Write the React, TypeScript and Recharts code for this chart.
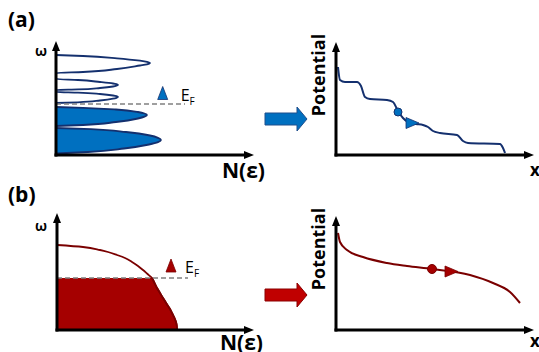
import React from 'react';
import {
    ComposedChart,
    Line,
    Area,
    XAxis,
    YAxis,
    ReferenceLine,
    ReferenceDot
} from 'recharts';

// (a) density of states: [ω, N(ε)] pairs per band, ascending ω
const bandEmptyLow = [[5.2, 0], [5.27, 2.2], [5.45, 4.4], [5.63, 5.7], [5.72, 6.05], [5.8, 6.2], [5.88, 6.05], [5.95, 5.7], [6.1, 4.4], [6.24, 2.2], [6.3, 0]];
const bandEmptyMid = [[6.5, 0], [6.56, 2.2], [6.7, 4.4], [6.85, 5.7], [6.93, 6.05], [7.0, 6.2], [7.08, 6.05], [7.15, 5.7], [7.3, 4.4], [7.5, 2.2], [7.6, 0]];
const bandEmptyTop = [[8.2, 0], [8.3, 2.7], [8.6, 6.1], [8.95, 8.4], [9.07, 9.1], [9.2, 9.4], [9.32, 9.1], [9.43, 8.4], [9.67, 6.1], [9.9, 2.7], [10.0, 0]];
const bandFilledLow = [[0.15, 0], [0.3, 3.2], [0.65, 6.8], [1.05, 9.3], [1.28, 10.2], [1.5, 10.5], [1.72, 10.2], [1.95, 9.4], [2.3, 7.0], [2.58, 3.5], [2.7, 0]];
const bandFilledHigh = [[2.9, 0], [3.0, 2.7], [3.3, 6.0], [3.65, 8.2], [3.83, 8.85], [4.0, 9.1], [4.15, 8.85], [4.3, 8.2], [4.55, 6.0], [4.72, 2.7], [4.8, 0]];
const fermiA = 5.1;
const fermiMarkA = [10.67, 6.15];

// (a) hopping potential along x: [x, V]
const stepsX = [0.2, 0.4, 0.9, 2.1, 2.5, 2.9, 3.4, 5.1, 5.7, 6.2, 6.7, 7.2, 8.0, 8.7, 9.2, 9.7, 10.4, 12.1, 12.7, 13.2, 16.4, 16.7, 16.9];
const stepsV = [8.8, 7.5, 7.3, 7.3, 6.9, 5.8, 5.6, 5.5, 5.3, 4.4, 3.7, 3.3, 3.1, 3.0, 2.8, 2.4, 2.2, 2.0, 1.4, 1.2, 1.1, 0.7, 0.2];
const carrierA = [6.2, 4.3];
const headingA = [7.6, 3.2];

// (b) continuous density of states: [ω, N(ε)]
const dosB = [
    [0, 12.0], [0.4, 11.98], [0.8, 11.9], [1.2, 11.75], [1.6, 11.55], [2.0, 11.35], [2.4, 11.1],
    [2.8, 10.85], [3.2, 10.6], [3.7, 10.3], [4.2, 10.0], [4.7, 9.75], [5.2, 9.5], [5.6, 9.05],
    [6.0, 8.6], [6.4, 8.1], [6.8, 7.5], [7.2, 6.8], [7.5, 6.0], [7.8, 5.1], [8.0, 4.3], [8.3, 2.6], [8.5, 0]
];
const fermiB = 5.2;
const fermiMarkB = [11.4, 6.4];

// (b) smooth potential along x
const driftX = [0.2, 0.4, 1.1, 2.7, 5.1, 7.1, 9.6, 13.4, 15.7, 17.4, 18.4];
const driftV = [9.7, 8.8, 8.0, 7.3, 6.7, 6.4, 6.1, 5.5, 4.7, 3.8, 2.7];
const carrierB = [9.6, 6.1];
const headingB = [11.5, 5.85];

const NAVY = '#14306E';
const BLUE = '#0070C0';
const MAROON = '#7A0000';
const RED = '#A50000';
const FONT = '"Open Sans", "DejaVu Sans", sans-serif';

// join bands into one series, with a null row between bands so the curve breaks
const bandRows = (bands: number[][][]) =>
    bands.flatMap((band, i) => {
        const rows: { w: number; n: number | null }[] = band.map(([w, n]) => ({ w, n }));
        if (i < bands.length - 1) rows.push({ w: band[band.length - 1][0] + 0.05, n: null });
        return rows;
    });

const emptyRowsA = bandRows([bandEmptyLow, bandEmptyMid, bandEmptyTop]);
const filledRowsA = bandRows([bandFilledLow, bandFilledHigh]);
const dosRowsB = dosB.map(([w, n]) => ({ w, n, occ: w <= fermiB ? n : null }));
const stepRows = stepsX.map((x, i) => ({ x, v: stepsV[i] }));
const driftRows = driftX.map((x, i) => ({ x, v: driftV[i] }));

const axisLine = (marker: 'start' | 'end') => ({
    stroke: '#000',
    strokeWidth: 3,
    strokeLinecap: 'square' as const,
    ...(marker === 'start' ? { markerStart: 'url(#axisHead)' } : { markerEnd: 'url(#axisHead)' })
});

const FermiMark = ({ cx, cy, color, dx }: any) => (
    <g>
        <polygon
            points={`${cx},${cy - 7} ${cx - 5},${cy + 6} ${cx + 5},${cy + 6}`}
            fill={color}
            stroke={color === BLUE ? NAVY : MAROON}
            strokeWidth={0.8}
        />
        <text x={cx + dx} y={cy + 7} fontFamily={FONT} fontSize={16} fill="#000">
            E<tspan fontSize={10} dy={4}>F</tspan>
        </text>
    </g>
);

const Heading = ({ cx, cy, color, edge }: any) => (
    <polygon
        points={`${cx - 6},${cy - 5.5} ${cx + 7},${cy} ${cx - 6},${cy + 5.5}`}
        fill={color}
        stroke={edge}
        strokeWidth={0.8}
    />
);

// energy runs up the vertical axis, so the ω scale is reversed in vertical layout
function DosChart({ children, height, margin, nMax, wMax }: any) {
    return (
        <ComposedChart layout="vertical" width={270} height={height} margin={margin}>
            <XAxis type="number" domain={[0, nMax]} allowDataOverflow tick={false} tickLine={false} height={20} axisLine={axisLine('end')} />
            <YAxis type="number" dataKey="w" domain={[0, wMax]} reversed allowDataOverflow tick={false} tickLine={false} width={20} axisLine={axisLine('start')} />
            {children}
        </ComposedChart>
    );
}

function PotentialChart({ children, height, margin, vMax }: any) {
    return (
        <ComposedChart width={269} height={height} margin={margin}>
            <XAxis type="number" dataKey="x" domain={[0, 18.9]} allowDataOverflow tick={false} tickLine={false} height={20} axisLine={axisLine('end')} />
            <YAxis type="number" domain={[0, vMax]} allowDataOverflow tick={false} tickLine={false} width={20} axisLine={axisLine('start')} />
            {children}
        </ComposedChart>
    );
}

export default function App() {
    return (
        <div style={{ position: 'absolute', left: 0, top: 0, width: 539, height: 352, background: '#fff', overflow: 'hidden' }}>
            <svg width={0} height={0} style={{ position: 'absolute' }}>
                <defs>
                    <marker id="axisHead" viewBox="0 0 10 8" refX={1} refY={4} markerWidth={10} markerHeight={8}
                        markerUnits="userSpaceOnUse" orient="auto-start-reverse">
                        <path d="M0,0 L10,4 L0,8 z" fill="#000" />
                    </marker>
                </defs>
            </svg>

            {/* (a) discrete bands */}
            <div style={{ position: 'absolute', left: 0, top: 0 }}>
                <DosChart height={180} margin={{ top: 50, right: 25, bottom: 5, left: 36 }} nMax={18.9} wMax={10.5}>
                    <Area data={filledRowsA} dataKey="n" type="monotone" fill={BLUE} fillOpacity={1}
                        stroke={NAVY} strokeWidth={1.8} isAnimationActive={false} dot={false} activeDot={false} />
                    <Line data={emptyRowsA} dataKey="n" type="monotone" stroke={NAVY} strokeWidth={1.8}
                        isAnimationActive={false} dot={false} activeDot={false} />
                    <ReferenceLine segment={[{ x: 0, y: fermiA }, { x: 12.9, y: fermiA }]} stroke="#808080" strokeWidth={1.5} strokeDasharray="5 3" />
                    <ReferenceDot x={fermiMarkA[0]} y={fermiMarkA[1]} r={6}
                        shape={(p: any) => <FermiMark {...p} color={BLUE} dx={18} />} />
                </DosChart>
            </div>

            {/* (a) stepwise potential */}
            <div style={{ position: 'absolute', left: 270, top: 0 }}>
                <PotentialChart height={180} margin={{ top: 51, right: 14, bottom: 5, left: 46 }} vMax={10.4}>
                    <Line data={stepRows} dataKey="v" type="monotone" stroke={NAVY} strokeWidth={2}
                        isAnimationActive={false} dot={false} activeDot={false} />
                    <ReferenceDot x={carrierA[0]} y={carrierA[1]} r={4} fill={BLUE} stroke={NAVY} strokeWidth={1} />
                    <ReferenceDot x={headingA[0]} y={headingA[1]} r={6}
                        shape={(p: any) => <Heading {...p} color={BLUE} edge={NAVY} />} />
                </PotentialChart>
            </div>

            {/* (b) continuous band, filled up to the Fermi level */}
            <div style={{ position: 'absolute', left: 0, top: 176 }}>
                <DosChart height={176} margin={{ top: 46, right: 25, bottom: 2, left: 37 }} nMax={18.8} wMax={10.8}>
                    <Line data={dosRowsB} dataKey="n" type="monotone" stroke={MAROON} strokeWidth={1.8}
                        isAnimationActive={false} dot={false} activeDot={false} />
                    <Area data={dosRowsB} dataKey="occ" type="monotone" fill={RED} fillOpacity={1}
                        stroke={MAROON} strokeWidth={1.8} isAnimationActive={false} dot={false} activeDot={false} />
                    <ReferenceLine segment={[{ x: 0, y: fermiB }, { x: 13.1, y: fermiB }]} stroke="#808080" strokeWidth={1.5} strokeDasharray="5 3" />
                    <ReferenceDot x={fermiMarkB[0]} y={fermiMarkB[1]} r={6}
                        shape={(p: any) => <FermiMark {...p} color={RED} dx={14} />} />
                </DosChart>
            </div>

            {/* (b) smooth potential */}
            <div style={{ position: 'absolute', left: 270, top: 176 }}>
                <PotentialChart height={176} margin={{ top: 49, right: 14, bottom: 2, left: 46 }} vMax={10.5}>
                    <Line data={driftRows} dataKey="v" type="monotone" stroke={MAROON} strokeWidth={2}
                        isAnimationActive={false} dot={false} activeDot={false} />
                    <ReferenceDot x={carrierB[0]} y={carrierB[1]} r={4.5} fill={RED} stroke={MAROON} strokeWidth={1} />
                    <ReferenceDot x={headingB[0]} y={headingB[1]} r={6}
                        shape={(p: any) => <Heading {...p} color={RED} edge={MAROON} />} />
                </PotentialChart>
            </div>

            {/* panel letters, axis titles and the arrows between panels */}
            <svg width={539} height={352} style={{ position: 'absolute', left: 0, top: 0, pointerEvents: 'none' }}
                fontFamily={FONT} fontWeight={700} fill="#000">
                <text x={8} y={27} fontSize={21}>(a)</text>
                <text x={8} y={202} fontSize={21}>(b)</text>
                <text x={35} y={56} fontSize={14}>ω</text>
                <text x={35} y={231} fontSize={14}>ω</text>
                <text x={222} y={178} fontSize={21}>N(ε)</text>
                <text x={220} y={350} fontSize={21}>N(ε)</text>
                <text x={325} y={75} fontSize={18} textAnchor="middle" transform="rotate(-90 325 75)">Potential</text>
                <text x={325} y={249} fontSize={18} textAnchor="middle" transform="rotate(-90 325 249)">Potential</text>
                <text x={530} y={176} fontSize={17}>x</text>
                <text x={530} y={347} fontSize={17}>x</text>
                <polygon points="265,113 297,113 297,107 307,119 297,131 297,125 265,125" fill={BLUE} stroke="#1F4E8C" strokeWidth={1} />
                <polygon points="265,289 297,289 297,283 307,295 297,307 297,301 265,301" fill="#C00000" stroke="#8B0000" strokeWidth={1} />
            </svg>
        </div>
    );
}
